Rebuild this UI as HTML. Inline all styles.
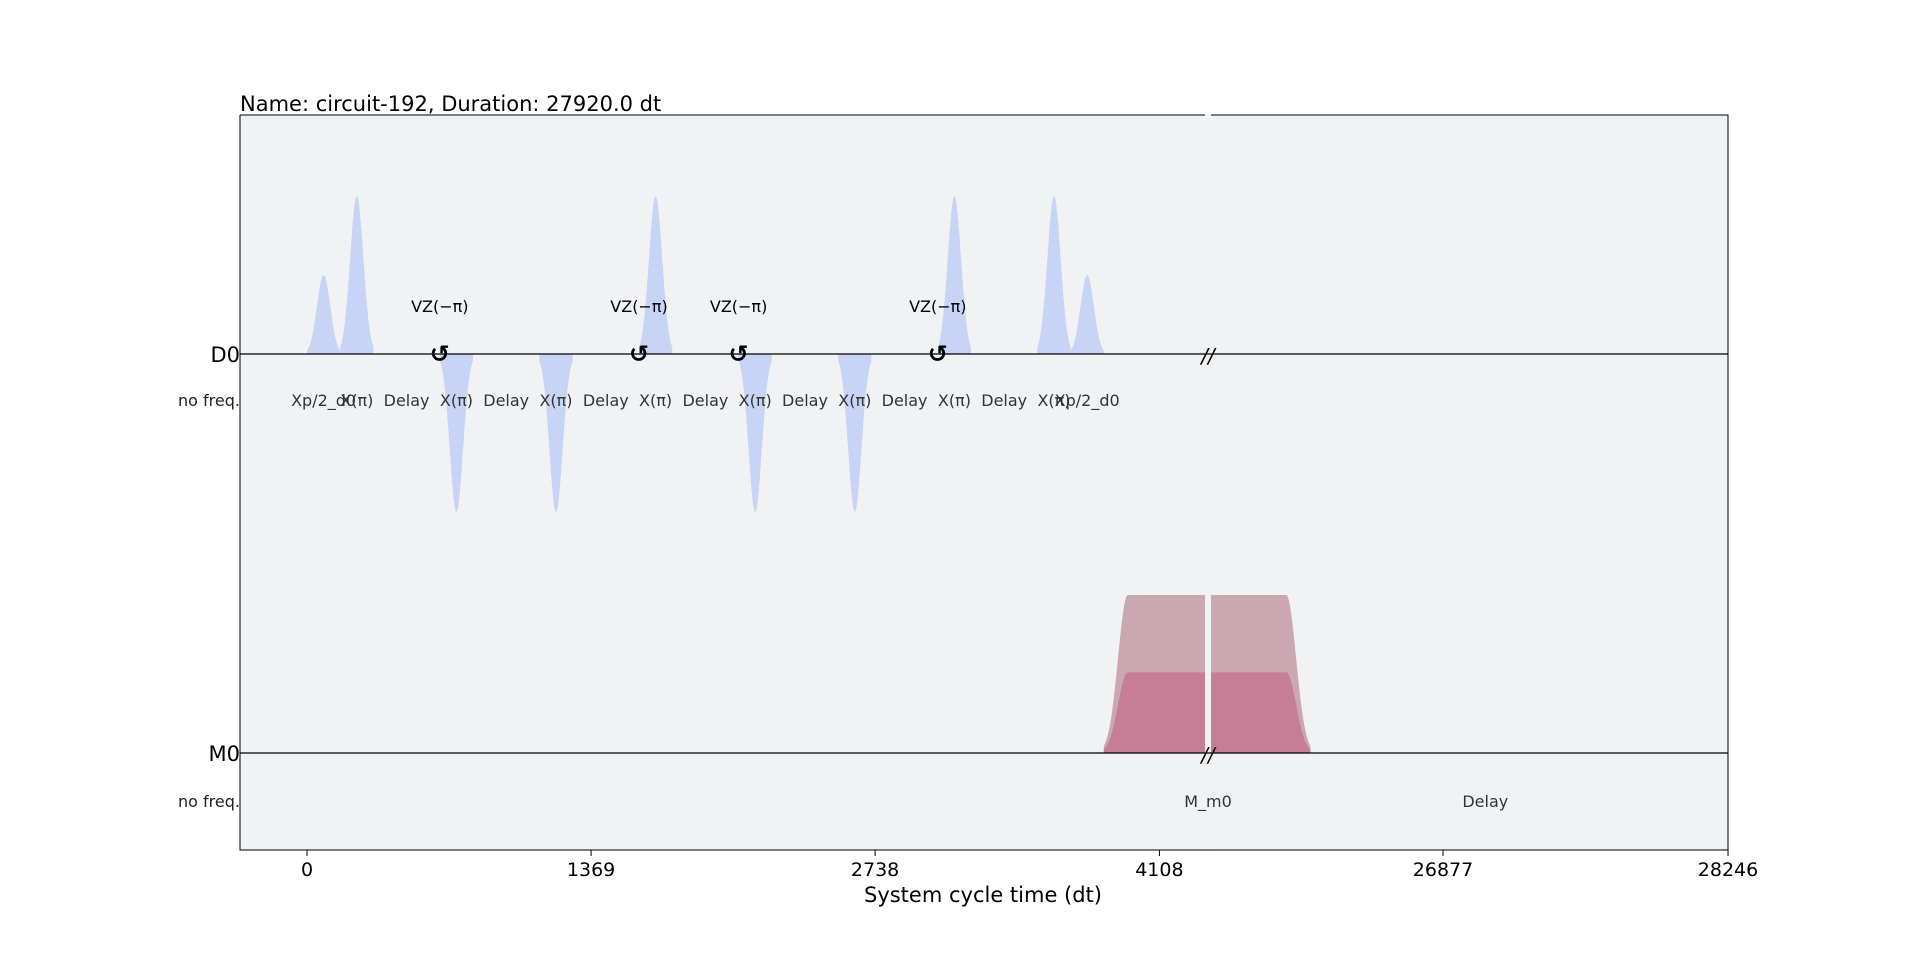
<!DOCTYPE html>
<html><head><meta charset="utf-8"><style>
html,body{margin:0;padding:0;background:#fff;}
svg{display:block;font-family:"DejaVu Sans","Liberation Sans",sans-serif;}
</style></head><body>
<svg id="chart" width="1920" height="955" viewBox="0 0 1920 955" xmlns="http://www.w3.org/2000/svg">
<rect x="240" y="115" width="1488" height="735" fill="#f1f2f4"/>
<g id="marks"></g>
<g id="axes"></g>
<text x="240" y="111" font-size="21" fill="#000">Name: circuit-192, Duration: 27920.0 dt</text>
<text x="983" y="902" font-size="21" text-anchor="middle" fill="#000">System cycle time (dt)</text>
<text x="240" y="362" font-size="21" text-anchor="end">D0</text>
<text x="240" y="406" font-size="16" text-anchor="end" fill="#222">no freq.</text>
<text x="240" y="761" font-size="21" text-anchor="end">M0</text>
<text x="240" y="807" font-size="16" text-anchor="end" fill="#222">no freq.</text>
</svg>
<script>
const tickValues = [0, 1369, 2738, 4108, 26877, 28246];
const tickLabels = ["0", "1369", "2738", "4108", "26877", "28246"];
const d0Names = ["Xp/2_d0","X(π)","Delay","X(π)","Delay","X(π)","Delay","X(π)","Delay","X(π)","Delay","X(π)","Delay","X(π)","Delay","X(π)","Xp/2_d0"];
const d0Starts = [0,160,320,640,800,1120,1280,1600,1760,2080,2240,2560,2720,3040,3200,3520,3680];
const d0Durations = [160,160,320,160,320,160,320,160,320,160,320,160,320,160,320,160,160];
const d0Amps = [0.5,1,0,-1,0,-1,0,1,0,-1,0,-1,0,1,0,1,0.5];
const vzTimes = [640,1600,2080,3040];
const m0Start = [3840];
const m0End = [26240];
const m0AmpOuter = [1.0];
const m0AmpInner = [0.51];
const m0Rise = [115];
const m0DelayStart = [26240];
const m0DelayEnd = [27920];

const NS = "http://www.w3.org/2000/svg";
const marks = document.getElementById('marks');
const axes = document.getElementById('axes');
const BREAK_L = 1205, BREAK_R = 1211;
function xs(t){
  if (t <= 4400) return 307 + t * 0.2075;
  return 1443 + (t - 26877) * 0.2082;
}
const D0Y = 354, M0Y = 753, AMP = 158;
function yD0(a){ return D0Y - a * AMP; }
function yM0(a){ return M0Y - a * AMP; }
function mk(tag, attrs){ const e = document.createElementNS(NS, tag); for (const k in attrs) e.setAttribute(k, attrs[k]); return e; }

// D0 pulses
for (let i = 0; i < d0Names.length; i++) {
  const s = d0Starts[i], d = d0Durations[i], a = d0Amps[i];
  const cx = xs(s + d / 2);
  if (a !== 0) {
    const sig = d / 5;
    let pts = [[xs(s), D0Y]];
    for (let k = 0; k <= 40; k++) {
      const t = s + d * k / 40;
      const g = Math.exp(-Math.pow(t - (s + d / 2), 2) / (2 * sig * sig));
      pts.push([xs(t), yD0(a * g)]);
    }
    pts.push([xs(s + d), D0Y]);
    const p = mk('polygon', {points: pts.map(q => q[0].toFixed(1) + ',' + q[1].toFixed(1)).join(' '), fill: '#c8d4f5'});
    
    
    marks.appendChild(p);
  }
  const lab = mk('text', {x: cx.toFixed(1), y: 406, 'font-size': 16, 'text-anchor': 'middle', fill: '#333'});
  lab.textContent = d0Names[i];
  
  
  marks.appendChild(lab);
}

// M0 measurement pulse
function gsq(amp, yfun){
  const s = m0Start[0], e = m0End[0], r = m0Rise[0];
  let pts = [];
  const sig = r / 2.5;
  const xl = [], xr = [];
  for (let k = 0; k <= 20; k++) {
    const t = s + r * k / 20;
    const g = Math.exp(-Math.pow(t - (s + r), 2) / (2 * sig * sig));
    xl.push([xs(t), yfun(amp * g)]);
  }
  for (let k = 0; k <= 20; k++) {
    const t = e - r + r * k / 20;
    const g = Math.exp(-Math.pow(t - (e - r), 2) / (2 * sig * sig));
    xr.push([xs(t), yfun(amp * g)]);
  }
  pts.push([xs(s), M0Y]);
  pts = pts.concat(xl, xr);
  pts.push([xs(e), M0Y]);
  return pts.map(q => q[0].toFixed(1) + ',' + q[1].toFixed(1)).join(' ');
}
const outer = mk('polygon', {points: gsq(m0AmpOuter[0], yM0), fill: '#cba8b1'});


marks.appendChild(outer);
const inner = mk('polygon', {points: gsq(m0AmpInner[0], yM0), fill: '#c67e97'});


marks.appendChild(inner);

// break gap
const gap = mk('rect', {x: BREAK_L, y: 114, width: BREAK_R - BREAK_L, height: 737, fill: '#f1f2f4'});


marks.appendChild(gap);

const ml = mk('text', {x: 1208, y: 807, 'font-size': 16, 'text-anchor': 'middle', fill: '#333'});
ml.textContent = 'M_m0';


marks.appendChild(ml);
const dl = mk('text', {x: xs((m0DelayStart[0] + m0DelayEnd[0]) / 2).toFixed(1), y: 807, 'font-size': 16, 'text-anchor': 'middle', fill: '#333'});
dl.textContent = 'Delay';


marks.appendChild(dl);

// baselines
[D0Y, M0Y].forEach((y, i) => {
  const l = mk('line', {x1: 240, x2: 1728, y1: y, y2: y, stroke: '#000', 'stroke-width': 1.3});
  
  
  axes.appendChild(l);
  const b = mk('text', {x: 1208, y: y + 9, 'font-size': 20, 'text-anchor': 'middle', 'font-style': 'italic'});
  b.textContent = '//';
  
  
  axes.appendChild(b);
});

// VZ icons
vzTimes.forEach(t => {
  const x = xs(t);
  const ic = mk('text', {x: x.toFixed(1), y: 362, 'font-size': 24, 'text-anchor': 'middle', 'font-weight': 'bold'});
  ic.textContent = '↺';
  
  
  axes.appendChild(ic);
  const lb = mk('text', {x: x.toFixed(1), y: 312, 'font-size': 16, 'text-anchor': 'middle'});
  lb.textContent = 'VZ(−π)';
  
  
  axes.appendChild(lb);
});

// frame
const frame = mk('path', {d: 'M240,115 L240,850 L1728,850 L1728,115 L' + BREAK_R + ',115 M' + BREAK_L + ',115 L240,115', fill: 'none', stroke: '#000', 'stroke-width': 1});


axes.appendChild(frame);

// ticks
tickValues.forEach((v, i) => {
  const x = xs(v);
  const t = mk('line', {x1: x, x2: x, y1: 850, y2: 856, stroke: '#000', 'stroke-width': 1});
  
  
  axes.appendChild(t);
  const l = mk('text', {x: x.toFixed(1), y: 876, 'font-size': 19, 'text-anchor': 'middle'});
  l.textContent = tickLabels[i];
  
  
  axes.appendChild(l);
});
</script>
</body></html>
